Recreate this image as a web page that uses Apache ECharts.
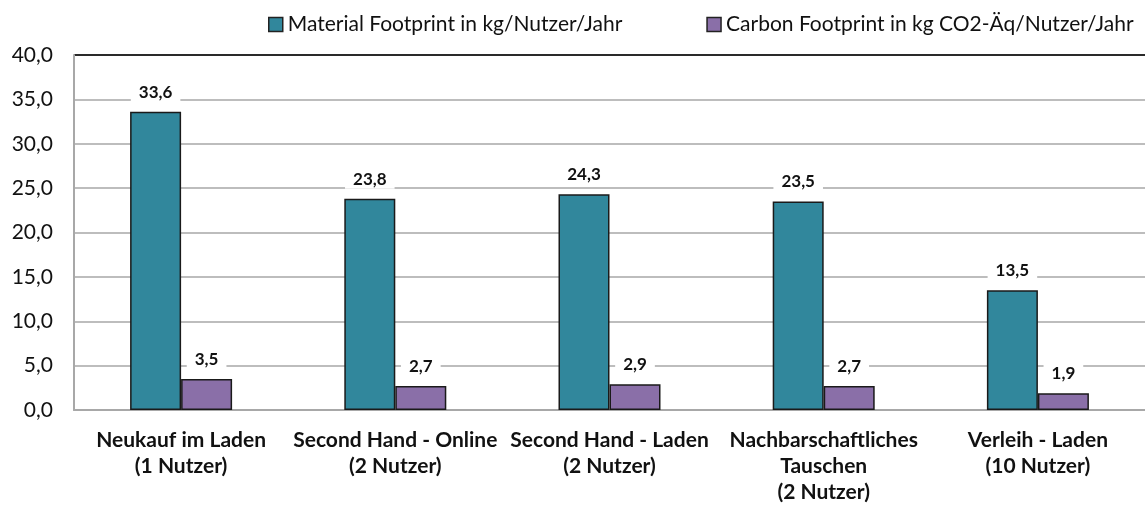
<!DOCTYPE html>
<html>
<head>
<meta charset="utf-8">
<script src="https://cdn.jsdelivr.net/npm/echarts@6/dist/echarts.min.js"></script>
<style>
  html, body { margin: 0; padding: 0; background: #ffffff; }
  #chart { width: 1145px; height: 506px; }
</style>
</head>
<body>
<div id="chart"></div>
<script>
// Footprint per scenario: material (kg/user/year) and carbon (kg CO2-eq/user/year)
const categories = [
  'Neukauf im Laden\n(1 Nutzer)',
  'Second Hand - Online\n(2 Nutzer)',
  'Second Hand - Laden\n(2 Nutzer)',
  'Nachbarschaftliches\nTauschen\n(2 Nutzer)',
  'Verleih - Laden\n(10 Nutzer)'
];
const materialFootprint = [33.6, 23.8, 24.3, 23.5, 13.5];
const carbonFootprint = [3.5, 2.7, 2.9, 2.7, 1.9];
const seriesNames = [
  'Material Footprint in kg/Nutzer/Jahr',
  'Carbon Footprint in kg CO2-Äq/Nutzer/Jahr'
];

const FONT = 'Lato, "Open Sans", sans-serif';
const fmt = v => v.toFixed(1).replace('.', ',');

// the uppermost grid line (40,0) is drawn darker, like a frame edge
const splitColors = ['#bdbdbd', '#bdbdbd', '#bdbdbd', '#bdbdbd', '#bdbdbd',
                     '#bdbdbd', '#bdbdbd', '#bdbdbd', '#2a2a2a'];

const valueLabel = {
  show: true,
  position: 'top',
  distance: 10,
  formatter: p => fmt(p.value),
  fontFamily: FONT,
  fontWeight: 'bold',
  fontSize: 17,
  color: '#111',
  backgroundColor: '#ffffff',
  padding: [1, 8, 1, 8]
};

const chart = echarts.init(document.getElementById('chart'), null, { renderer: 'canvas' });
chart.setOption({
  animation: false,
  textStyle: { fontFamily: FONT },
  legend: {
    top: 9,
    left: 263,
    width: 1000,
    itemWidth: 14,
    itemHeight: 14,
    itemGap: 84,
    icon: 'rect',
    textStyle: { fontFamily: FONT, fontSize: 21, color: '#111' },
    itemStyle: { borderColor: '#222', borderWidth: 1.5 },
    data: seriesNames
  },
  grid: { left: 74, right: -4, top: 55, bottom: 96, containLabel: false },
  xAxis: {
    type: 'category',
    data: categories,
    axisLine: { lineStyle: { color: '#a8a8a8', width: 2 } },
    axisTick: { show: false },
    axisLabel: {
      interval: 0,
      margin: 17,
      fontFamily: FONT,
      fontWeight: 'bold',
      fontSize: 21,
      lineHeight: 26,
      color: '#111'
    }
  },
  yAxis: {
    type: 'value',
    min: 0,
    max: 40,
    interval: 5,
    axisLine: { show: true, lineStyle: { color: '#a8a8a8', width: 2 } },
    axisTick: { show: false },
    splitLine: { lineStyle: { color: splitColors, width: 1.8 } },
    axisLabel: {
      formatter: v => fmt(v),
      margin: 21,
      fontFamily: FONT,
      fontSize: 21,
      color: '#111'
    }
  },
  series: [
    {
      name: seriesNames[0],
      type: 'bar',
      data: materialFootprint,
      barWidth: 51,
      barGap: '0%',
      itemStyle: { color: '#31879C', borderColor: '#1a1a1a', borderWidth: 1.5 },
      label: valueLabel
    },
    {
      name: seriesNames[1],
      type: 'bar',
      data: carbonFootprint,
      barWidth: 51,
      barGap: '0%',
      itemStyle: { color: '#8A6FA8', borderColor: '#1a1a1a', borderWidth: 1.5 },
      label: valueLabel
    }
  ]
});
</script>
</body>
</html>
